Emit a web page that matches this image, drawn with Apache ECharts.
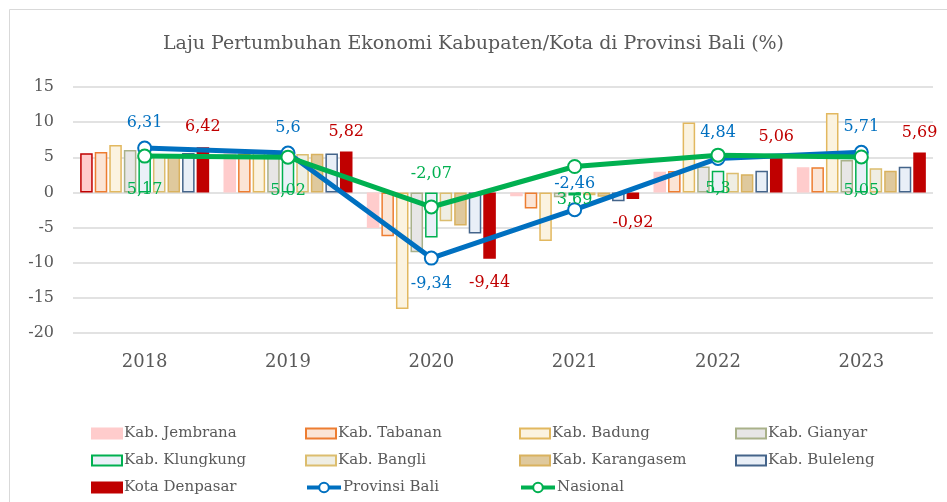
<!DOCTYPE html>
<html>
<head>
<meta charset="utf-8">
<script src="https://cdn.jsdelivr.net/npm/echarts@6/dist/echarts.min.js"></script>
<style>
  html, body { margin: 0; padding: 0; background: #fff; }
  #main { width: 947px; height: 502px; }
</style>
</head>
<body>
<div id="main"></div>
<script>
// categories and values
var years = ['2018', '2019', '2020', '2021', '2022', '2023'];

var jembrana   = [5.57, 5.56, -5.06, -0.55, 2.95, 3.57];
var tabanan    = [5.75, 5.54, -6.25, -2.30, 3.04, 3.60];
var badung     = [6.75, 5.83, -16.6, -6.90, 9.95, 11.30];
var gianyar    = [6.02, 5.64, -8.50, -0.70, 3.70, 4.60];
var klungkung  = [5.51, 5.45, -6.40, -0.45, 3.10, 4.85];
var bangli     = [5.24, 5.45, -4.10, -0.40, 2.80, 3.43];
var karangasem = [5.28, 5.50, -4.70, -0.60, 2.60, 3.09];
var buleleng   = [5.62, 5.53, -5.86, -1.24, 3.10, 3.66];
var denpasar   = [6.42, 5.82, -9.44, -0.92, 5.06, 5.69];
var provBali   = [6.31, 5.6, -9.34, -2.46, 4.84, 5.71];
var nasional   = [5.17, 5.02, -2.07, 3.69, 5.3, 5.05];

var yTicks = [15, 10, 5, 0, -5, -10, -15, -20];

var grey = '#595959';
var serif = "'DejaVu Serif', 'Liberation Serif', serif";

function fmt(v) { return String(v).replace('.', ','); }

// bar series: name, values, fill, border
var bars = [
  ['Kab. Jembrana',   jembrana,   '#ffcccc', '#ffcccc'],
  ['Kab. Tabanan',    tabanan,    '#fbe5d6', '#ed7d31'],
  ['Kab. Badung',     badung,     '#fbf3e0', '#e2b85f'],
  ['Kab. Gianyar',    gianyar,    '#e7e6e6', '#a9b18a'],
  ['Kab. Klungkung',  klungkung,  '#eaf0f8', '#00b050'],
  ['Kab. Bangli',     bangli,     '#efeee4', '#dcbd6e'],
  ['Kab. Karangasem', karangasem, '#dfc99d', '#d9b25f'],
  ['Kab. Buleleng',   buleleng,   '#e9eff7', '#44648a'],
  ['Kota Denpasar',   denpasar,   '#c00000', '#c00000']
];

var series = bars.map(function (b, i) {
  var s = {
    name: b[0],
    type: 'bar',
    barGap: '16%',
    barCategoryGap: '10%',
    itemStyle: { color: b[2], borderColor: b[3], borderWidth: 1.5 },
    emphasis: { disabled: true },
    data: b[1].map(function (v, j) {
      var d = { value: v };
      // 2018 Jembrana bar has a dark red outline
      if (i === 0 && j === 0) d.itemStyle = { borderColor: '#c00000' };
      return d;
    })
  };
  if (b[0] === 'Kota Denpasar') {
    s.data.forEach(function (d) {
      d.label = d.value < 0
        ? { show: true, position: 'bottom', distance: 16 }
        : { show: true, position: 'top', distance: 12 };
    });
    s.label = {
      color: '#c00000', fontSize: 16, fontFamily: serif,
      formatter: function (p) { return fmt(p.value); }
    };
  }
  return s;
});

// line label placement per point
var baliPos = ['top', 'top', 'bottom', 'top', 'top', 'top'];
var nasPos  = ['bottom', 'bottom', 'top', 'bottom', 'bottom', 'bottom'];

function lineSeries(name, values, color, pos, distTop, distBottom) {
  return {
    name: name,
    type: 'line',
    z: 5,
    symbol: 'circle',
    symbolSize: 13,
    lineStyle: { color: color, width: 5 },
    itemStyle: { color: '#fff', borderColor: color, borderWidth: 2 },
    emphasis: { disabled: true },
    label: {
      show: true, color: color, fontSize: 16, fontFamily: serif,
      formatter: function (p) { return fmt(p.value); }
    },
    data: values.map(function (v, j) {
      return { value: v, label: { position: pos[j], distance: pos[j] === 'top' ? distTop : distBottom } };
    })
  };
}
series.push(lineSeries('Provinsi Bali', provBali, '#0070c0', baliPos, 10, 10));
series.push(lineSeries('Nasional', nasional, '#00b050', nasPos, 18, 18));

// legend: 4 columns x 3 rows
var colX = [86, 300, 514, 730];
var rowY = [421, 448, 475];
var legends = series.map(function (s, i) {
  var isLine = s.type === 'line';
  return {
    data: [{ name: s.name, icon: isLine ? undefined : 'rect' }],
    left: colX[i % 4],
    top: rowY[Math.floor(i / 4)],
    itemWidth: isLine ? 34 : 30,
    itemHeight: isLine ? 12 : 10,
    itemGap: 4,
    selectedMode: false,
    lineStyle: { width: 4 },
    textStyle: { color: grey, fontSize: 15, fontFamily: serif, padding: [0, 0, 0, -3] }
  };
});

var chart = echarts.init(document.getElementById('main'), null, { renderer: 'canvas' });
chart.setOption({
  backgroundColor: '#fff',
  animation: false,
  title: {
    text: 'Laju Pertumbuhan Ekonomi Kabupaten/Kota di Provinsi Bali (%)',
    left: 'center',
    top: 30,
    textStyle: { color: grey, fontSize: 19, fontWeight: 'normal', fontFamily: serif }
  },
  graphic: [{
    type: 'rect',
    shape: { x: 9.5, y: 9.5, width: 960, height: 520 },
    style: { fill: 'none', stroke: '#d9d9d9', lineWidth: 1 },
    silent: true
  }],
  legend: legends,
  grid: { left: 73, right: 14, top: 87, bottom: 169, containLabel: false },
  xAxis: {
    type: 'category',
    data: years,
    axisLine: { show: false },
    axisTick: { show: false },
    axisLabel: { color: grey, fontSize: 18, fontFamily: serif, margin: 20 }
  },
  yAxis: {
    type: 'value',
    min: yTicks[yTicks.length - 1],
    max: yTicks[0],
    interval: 5,
    axisLine: { show: false },
    axisTick: { show: false },
    axisLabel: { color: grey, fontSize: 16, fontFamily: serif, margin: 19 },
    splitLine: { lineStyle: { color: '#d9d9d9', width: 1.5 } }
  },
  series: series
});
</script>
</body>
</html>
